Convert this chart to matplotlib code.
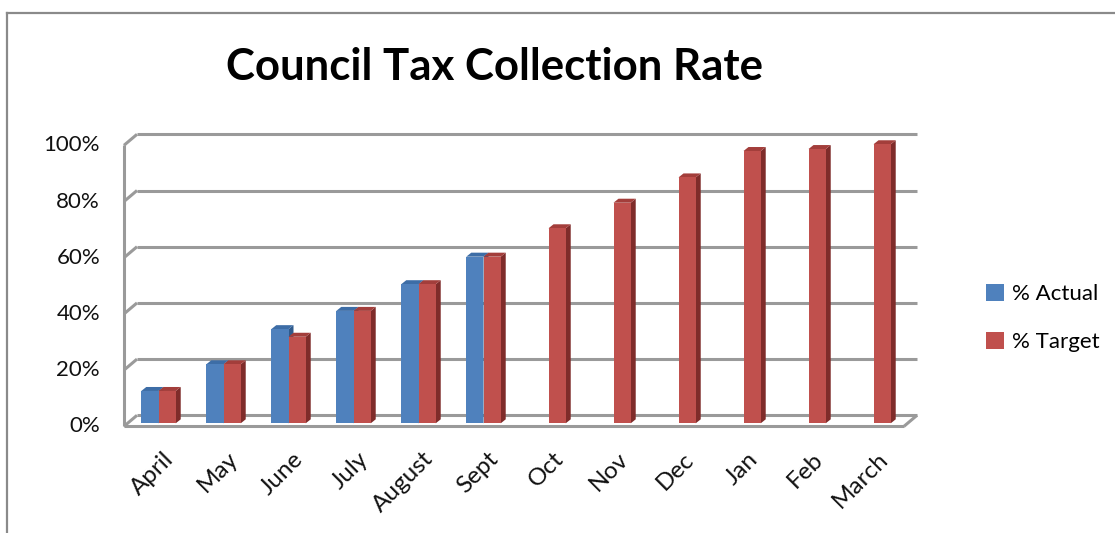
import numpy as np
import matplotlib
matplotlib.use("Agg")
import matplotlib.pyplot as plt
from matplotlib.transforms import offset_copy, IdentityTransform
from matplotlib.patches import Polygon, Patch
from matplotlib.lines import Line2D

months = ["April", "May", "June", "July", "August", "Sept", "Oct", "Nov",
          "Dec", "Jan", "Feb", "March"]
actual = [0.115, 0.21, 0.335, 0.40, 0.495, 0.593, np.nan, np.nan, np.nan,
          np.nan, np.nan, np.nan]
target = [0.115, 0.21, 0.308, 0.40, 0.495, 0.593, 0.694, 0.785, 0.875,
          0.969, 0.976, 0.993]
yticks = [0, 0.2, 0.4, 0.6, 0.8, 1.0]
ytick_labels = ["0%", "20%", "40%", "60%", "80%", "100%"]
series_names = ["% Actual", "% Target"]
title = "Council Tax Collection Rate"

plt.rcParams['font.family'] = ['Lato', 'DejaVu Sans']

W, H = 1115, 533
fig = plt.figure(figsize=(W / 100, H / 100), dpi=100)
ax = fig.add_axes([126 / W, (H - 423.3) / H, 780 / W, 281 / H])
ax.set_xlim(-0.5, 11.5)
ax.set_ylim(0, 1)
ax.axis("off")

grid_c = "#9a9a9a"
blue, blue_dark, blue_top = "#4F81BD", "#2F5A8C", "#3D6DA6"
red, red_dark, red_top = "#C0504D", "#7F2C2A", "#A33E3B"

BACK = (11, 8)     # display-pixel offset of back wall (right, up)
FRONT = (-2, -3)   # front edge of floor/wall
DEPTH = (5, 4)     # bar depth


def disp(x, y, off=(0, 0)):
    px, py = ax.transData.transform((x, y))
    return (px + off[0], py + off[1])


def seg(p, q, z=1):
    ax.add_line(Line2D([p[0], q[0]], [p[1], q[1]], transform=IdentityTransform(),
                       color=grid_c, lw=2.2, solid_capstyle="butt", zorder=z,
                       clip_on=False))


# back wall gridlines + left wall diagonals
x0, x1 = -0.5, 11.5
for v in yticks:
    seg(disp(x0, v, BACK), disp(x1, v, BACK))
    seg(disp(x0, v, FRONT), disp(x0, v, BACK))
# left wall front vertical
seg(disp(x0, 0, FRONT), disp(x0, 1, FRONT))
# floor
seg(disp(x0, 0, FRONT), disp(x1, 0, FRONT))
seg(disp(x1, 0, FRONT), disp(x1, 0, BACK))

# bars
w = 0.265
xs = np.arange(len(months))


def bar3d(xc, v, face, side, top, z):
    if v is None or np.isnan(v):
        return
    a, b = xc - w / 2, xc + w / 2
    pts_top = [disp(a, v), disp(b, v), disp(b, v, DEPTH), disp(a, v, DEPTH)]
    pts_side = [disp(b, 0), disp(b, v), disp(b, v, DEPTH), disp(b, 0, DEPTH)]
    for pts, c in ((pts_side, side), (pts_top, top)):
        ax.add_patch(Polygon(pts, closed=True, transform=IdentityTransform(),
                             facecolor=c, edgecolor="none", zorder=z,
                             clip_on=False))
    ax.bar(xc, v, width=w, color=face, zorder=z + 0.5, linewidth=0, clip_on=False)


for i in xs:
    bar3d(i - w / 2, actual[i], blue, blue_dark, blue_top, 3)
for i in xs:
    bar3d(i + w / 2, target[i], red, red_dark, red_top, 5)

# y tick labels
ytf = offset_copy(ax.transData, fig=fig, x=-26, y=-3, units="dots")
for v, lab in zip(yticks, ytick_labels):
    ax.text(-0.5, v, lab, transform=ytf, ha="right", va="center",
            fontsize=16, color="#111111", clip_on=False)

# x tick labels
xtf = offset_copy(ax.get_xaxis_transform(), fig=fig, x=4, y=-25, units="dots")
for i, lab in enumerate(months):
    ax.text(i, 0, lab, transform=xtf, ha="right", va="top", rotation=45,
            rotation_mode="anchor", fontsize=17.5, color="#111111", clip_on=False)

# title
fig.text(494 / W, 1 - 67 / H, title, ha="center", va="center",
         fontsize=31.5, fontweight="bold", color="black")

# legend
handles = [Patch(facecolor=blue, edgecolor="none"), Patch(facecolor=red, edgecolor="none")]
fig.legend(handles, series_names, loc="center left",
           bbox_to_anchor=(986 / W, 1 - 318 / H), frameon=False, fontsize=16,
           borderpad=0, borderaxespad=0,
           handlelength=0.8, handleheight=0.8, handletextpad=0.35, labelspacing=1.25)

# outer border (top and left)
fig.add_artist(Line2D([7, W], [H - 12.5, H - 12.5], transform=IdentityTransform(),
                      color="#8a8a8a", lw=1.6))
fig.add_artist(Line2D([7, 7], [0, H - 12.5], transform=IdentityTransform(),
                      color="#8a8a8a", lw=1.6))

fig.savefig("out.png", dpi=100, facecolor="white")
